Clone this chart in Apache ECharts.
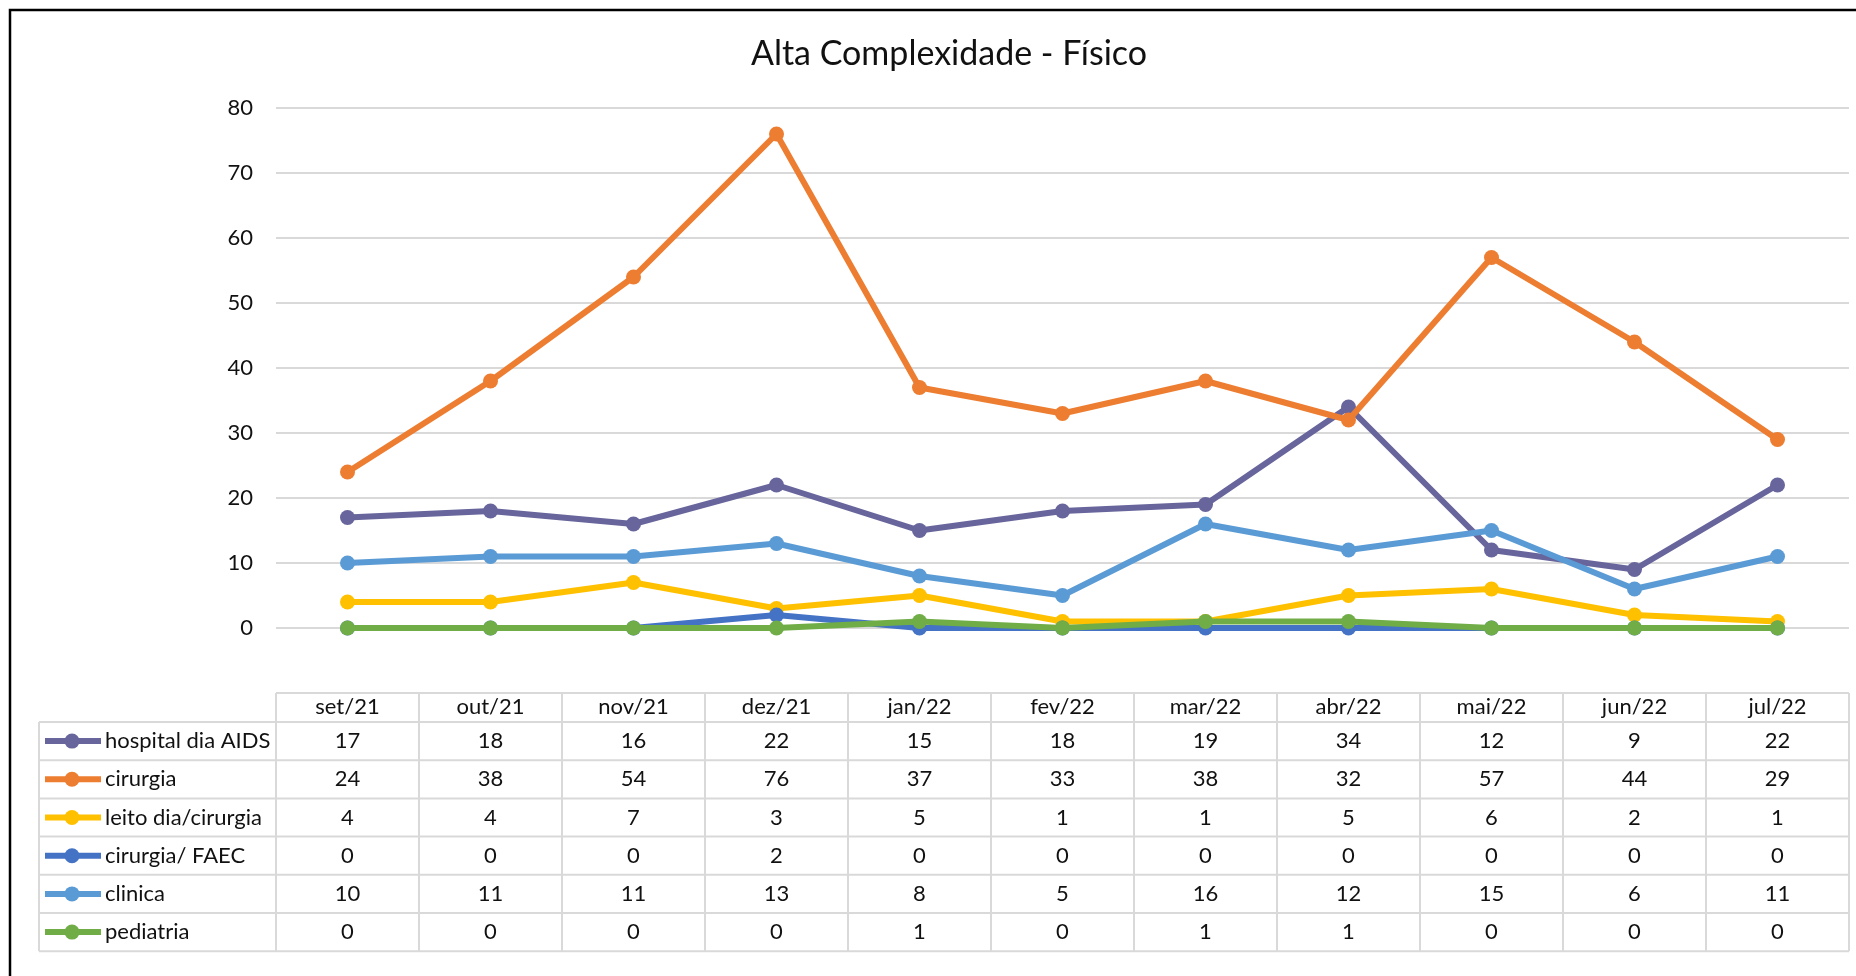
<!DOCTYPE html>
<html>
<head>
<meta charset="utf-8">
<script src="https://cdn.jsdelivr.net/npm/echarts@6/dist/echarts.min.js"></script>
<style>
  html, body { margin: 0; padding: 0; background: #fff; }
  #chart { width: 1856px; height: 976px; }
</style>
</head>
<body>
<div id="chart"></div>
<script>
// Months (category axis)
const months = ['set/21', 'out/21', 'nov/21', 'dez/21', 'jan/22', 'fev/22', 'mar/22', 'abr/22', 'mai/22', 'jun/22', 'jul/22'];

// Series values
const hospitalDiaAids = [17, 18, 16, 22, 15, 18, 19, 34, 12, 9, 22];
const cirurgia        = [24, 38, 54, 76, 37, 33, 38, 32, 57, 44, 29];
const leitoDiaCirurgia = [4, 4, 7, 3, 5, 1, 1, 5, 6, 2, 1];
const cirurgiaFaec    = [0, 0, 0, 2, 0, 0, 0, 0, 0, 0, 0];
const clinica         = [10, 11, 11, 13, 8, 5, 16, 12, 15, 6, 11];
const pediatria       = [0, 0, 0, 0, 1, 0, 1, 1, 0, 0, 0];

// Series names, in table order
const seriesNames = ['hospital dia AIDS', 'cirurgia', 'leito dia/cirurgia', 'cirurgia/ FAEC', 'clinica', 'pediatria'];
const seriesValues = [hospitalDiaAids, cirurgia, leitoDiaCirurgia, cirurgiaFaec, clinica, pediatria];

// Value axis ticks
const yMin = 0;
const yMax = 80;
const yStep = 10;

const colors = ['#67659B', '#ED7D31', '#FFC000', '#4472C4', '#5B9BD5', '#70AD47'];
const FONT = 'Lato, "Open Sans", sans-serif';
const TEXT = '#111';
const RULE = '#D9D9D9';
const TABLE_FONT = 22;

const chart = echarts.init(document.getElementById('chart'), null, { renderer: 'canvas' });

const option = {
  backgroundColor: '#fff',
  animation: false,
  title: {
    text: 'Alta Complexidade - Físico',
    left: 944,
    textAlign: 'center',
    top: 32,
    textStyle: { fontFamily: FONT, fontSize: 34, fontWeight: 'normal', color: TEXT }
  },
  grid: { left: 276, right: 7, top: 108, bottom: 348, containLabel: false },
  xAxis: {
    type: 'category',
    data: months,
    boundaryGap: true,
    axisLine: { show: false },
    axisTick: { show: false },
    axisLabel: {
      interval: 0,
      margin: 79,
      verticalAlign: 'middle',
      fontFamily: FONT,
      fontSize: TABLE_FONT,
      color: TEXT
    }
  },
  yAxis: {
    type: 'value',
    min: yMin,
    max: yMax,
    interval: yStep,
    axisLine: { show: false },
    axisTick: { show: false },
    axisLabel: { margin: 23, fontFamily: FONT, fontSize: 22, color: TEXT },
    splitLine: { lineStyle: { color: RULE, width: 2 } }
  },
  series: seriesNames.map((name, i) => ({
    name: name,
    type: 'line',
    data: seriesValues[i],
    symbol: 'circle',
    symbolSize: 15,
    showSymbol: true,
    lineStyle: { color: colors[i], width: 6 },
    itemStyle: { color: colors[i] },
    z: 2 + i
  }))
};

chart.setOption(option);

// Data table under the plot, aligned with the category axis
function buildTable() {
  const xs = months.map((m, i) => chart.convertToPixel({ xAxisIndex: 0 }, i));
  const step = xs[1] - xs[0];
  const colEdges = [xs[0] - step / 2].concat(xs.map(x => x + step / 2));
  const tableLeft = 39;
  const tableRight = colEdges[colEdges.length - 1];
  const headerTop = 693;
  const bodyTop = 722;
  const rowH = 38.2;
  const bodyBottom = bodyTop + rowH * seriesNames.length;

  const els = [];
  const line = (x1, y1, x2, y2) => els.push({
    type: 'line', silent: true, z: 1,
    shape: { x1, y1, x2, y2 },
    style: { stroke: RULE, lineWidth: 2 }
  });

  // horizontal rules
  line(colEdges[0], headerTop, tableRight, headerTop);
  for (let r = 0; r <= seriesNames.length; r++) {
    const y = bodyTop + r * rowH;
    line(tableLeft, y, tableRight, y);
  }
  // vertical rules
  line(tableLeft, bodyTop, tableLeft, bodyBottom);
  colEdges.forEach(x => line(x, headerTop, x, bodyBottom));

  seriesNames.forEach((name, r) => {
    const cy = bodyTop + rowH * (r + 0.5);
    // legend key
    els.push({
      type: 'line', silent: true, z: 3,
      shape: { x1: 45, y1: cy, x2: 101, y2: cy },
      style: { stroke: colors[r], lineWidth: 6 }
    });
    els.push({
      type: 'circle', silent: true, z: 4,
      shape: { cx: 72, cy: cy, r: 7.5 },
      style: { fill: colors[r] }
    });
    els.push({
      type: 'text', silent: true, z: 3,
      x: 105, y: cy,
      style: {
        text: name, fontFamily: FONT, fontSize: TABLE_FONT, fill: TEXT,
        align: 'left', verticalAlign: 'middle',
        textAlign: 'left', textVerticalAlign: 'middle'
      }
    });
    // values
    seriesValues[r].forEach((v, c) => {
      els.push({
        type: 'text', silent: true, z: 3,
        x: xs[c], y: cy,
        style: {
          text: String(v), fontFamily: FONT, fontSize: TABLE_FONT, fill: TEXT,
          align: 'center', verticalAlign: 'middle',
          textAlign: 'center', textVerticalAlign: 'middle'
        }
      });
    });
  });

  // outer frame of the chart area
  els.push({
    type: 'rect', silent: true, z: 10,
    shape: { x: 10, y: 10, width: 1900, height: 1000 },
    style: { fill: 'none', stroke: '#000', lineWidth: 2.5 }
  });

  chart.setOption({ graphic: els });
}

buildTable();
</script>
</body>
</html>
